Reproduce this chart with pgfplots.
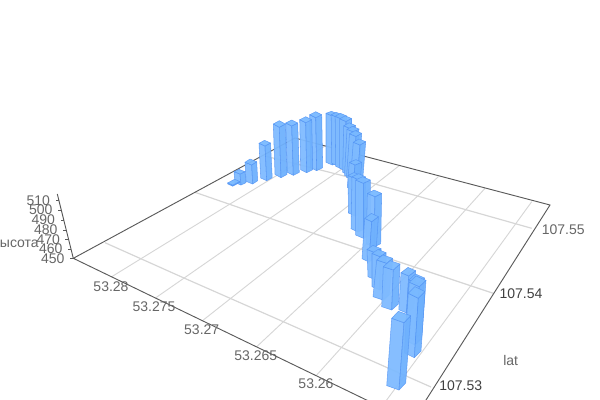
\documentclass[border=0pt]{standalone}
\usepackage{fontspec}
\setmainfont{Liberation Sans}
\usepackage{pgfplots}
\pgfplotsset{compat=1.18}
\definecolor{facel}{HTML}{7FBBFF}
\definecolor{facer}{HTML}{6FB1FD}
\definecolor{facet}{HTML}{79B9FF}
\definecolor{edgeb}{HTML}{5293F4}
\definecolor{gridc}{HTML}{D6D6D6}
\definecolor{axisc}{HTML}{5A5A5A}
\definecolor{labc}{HTML}{666666}
\definecolor{labd}{HTML}{404040}
\tikzset{lab/.style={font=\fontsize{10.5pt}{12pt}\selectfont,text=labc,inner sep=0pt},
         labdark/.style={font=\fontsize{10.5pt}{12pt}\selectfont,text=labd,inner sep=0pt,
           draw=none}}
% one 3D bar: top-front x y, bottom-front x y, left vector, right vector (pixels of the picture)
\newcommand{\vbar}[8]{%
  \pgfmathsetmacro{\tlx}{#1+#5}\pgfmathsetmacro{\tly}{#2+#6}%
  \pgfmathsetmacro{\trx}{#1+#7}\pgfmathsetmacro{\try}{#2+#8}%
  \pgfmathsetmacro{\tbx}{#1+#5+#7}\pgfmathsetmacro{\tby}{#2+#6+#8}%
  \pgfmathsetmacro{\blx}{#3+#5}\pgfmathsetmacro{\bly}{#4+#6}%
  \pgfmathsetmacro{\brx}{#3+#7}\pgfmathsetmacro{\bry}{#4+#8}%
  \addplot[barstyle,fill=facel] coordinates {(#1,#2) (\tlx,\tly) (\blx,\bly) (#3,#4)} --cycle;
  \addplot[barstyle,fill=facer] coordinates {(#1,#2) (\trx,\try) (\brx,\bry) (#3,#4)} --cycle;
  \addplot[barstyle,fill=facet] coordinates {(#1,#2) (\tlx,\tly) (\tbx,\tby) (\trx,\try)} --cycle;
}
\pgfplotsset{barstyle/.style={draw=edgeb,line width=0.4pt,fill opacity=0.95,draw opacity=0.8,line join=round,mark=none}}
\begin{document}
\begin{tikzpicture}
\useasboundingbox (0,0) rectangle (450pt,300pt);
\begin{axis}[at={(0,0)},anchor=south west,width=450pt,height=300pt,scale only axis,
  xmin=0,xmax=600,ymin=0,ymax=400,y dir=reverse,axis lines=none]
% grid, family along lat
\addplot[gridc,line width=0.9pt,mark=none] coordinates {(105,242.7) (183.3,277.7) (283.3,321.7) (431,387)};
\addplot[gridc,line width=0.9pt,mark=none] coordinates {(195,192.3) (313.3,233.3) (493.3,293.3)};
\addplot[gridc,line width=0.9pt,mark=none] coordinates {(263,155.5) (366.7,181.7) (531.7,228.3)};
% grid, family along lon
\addplot[gridc,line width=0.7pt,mark=none] coordinates {(111.7,276.7) (230,204) (325,146)};
\addplot[gridc,line width=0.7pt,mark=none] coordinates {(155,298.3) (270,218.3) (361.6,155.4)};
\addplot[gridc,line width=0.7pt,mark=none] coordinates {(203.3,320) (313.3,233.3) (399,165.8)};
\addplot[gridc,line width=0.7pt,mark=none] coordinates {(256.7,346.7) (438.3,176.7)};
\addplot[gridc,line width=0.7pt,mark=none] coordinates {(316.7,375) (485,188.3)};
\addplot[gridc,line width=0.7pt,mark=none] coordinates {(383,405) (470,286.7) (531.7,201.7)};
% floor frame
\addplot[axisc,line width=0.7pt,mark=none] coordinates {(73.3,258.3) (295,138) (550,205) (412,422) (73.3,258.3)};
% vertical axis and its ticks
\addplot[axisc,line width=0.7pt,mark=none] coordinates {(73.3,258.3) (57.3,194)};
\addplot[axisc,line width=0.7pt,mark=none] coordinates {(59.3,200.7) (55.8,200.7)};
\addplot[axisc,line width=0.7pt,mark=none] coordinates {(61.6,210) (58.1,210)};
\addplot[axisc,line width=0.7pt,mark=none] coordinates {(64.1,220) (60.6,220)};
\addplot[axisc,line width=0.7pt,mark=none] coordinates {(66.6,230) (63.1,230)};
\addplot[axisc,line width=0.7pt,mark=none] coordinates {(68.9,239.3) (65.4,239.3)};
\addplot[axisc,line width=0.7pt,mark=none] coordinates {(71.3,249) (67.8,249)};
\addplot[axisc,line width=0.7pt,mark=none] coordinates {(73.3,258.3) (69.8,258.3)};
% bars, far to near
\vbar{332.3}{116}{332.3}{165}{-6.3}{-2.7}{5.5}{-2}
\vbar{337.5}{117.5}{338}{166}{-6.3}{-2.7}{5}{-2.5}
\vbar{341.5}{119}{342}{169}{-6.3}{-2.7}{5.2}{-3}
\vbar{315.7}{117.7}{316.7}{170.7}{-6}{-3}{6}{-3}
\vbar{346}{121.5}{346}{171}{-6.3}{-2.7}{5.5}{-3}
\vbar{305.7}{122.7}{306.7}{172.7}{-6}{-3}{6}{-3}
\vbar{350}{128.5}{349}{175}{-6.3}{-2.7}{5.5}{-3}
\vbar{291.7}{126}{293.3}{175.3}{-6}{-3}{6}{-3}
\vbar{279.3}{127.3}{281}{177.7}{-6}{-3.3}{6}{-3.3}
\vbar{353.5}{132}{351}{178}{-6.5}{-2.7}{5.5}{-3}
\vbar{356}{136.5}{353}{180}{-6.5}{-2.7}{5.7}{-3.2}
\vbar{265}{146}{266.7}{180.7}{-6}{-2.7}{5.5}{-3}
\vbar{360}{145}{357}{183}{-6.7}{-2.7}{5.7}{-3.3}
\vbar{251.7}{165}{252.7}{184}{-6.7}{-2.7}{5}{-3.3}
\vbar{240}{174}{241}{185}{-6}{-2.3}{5}{-2.3}
\vbar{232.7}{185.2}{232.7}{186.2}{-5}{-2.3}{7}{-3.7}
\vbar{355}{165}{353}{190}{-5.7}{-2.7}{6.7}{-2.7}
\vbar{354.5}{178.5}{355}{216}{-6.5}{-3}{6}{-3}
\vbar{359}{180}{358}{232}{-7}{-3.3}{6.7}{-3}
\vbar{363.3}{183.3}{363.3}{238.3}{-7.7}{-3.3}{7}{-3.3}
\vbar{375}{196.7}{374}{247}{-7.7}{-3.3}{6.7}{-3.3}
\vbar{371.7}{221.7}{369}{262}{-7}{-3.3}{6.7}{-5}
\vbar{375}{252.7}{376}{280}{-8}{-3.3}{6}{-4}
\vbar{380}{256.7}{380}{290}{-8}{-3.3}{6}{-4}
\vbar{386.7}{263.3}{383}{300}{-10}{-3.3}{6}{-5}
\vbar{393.3}{270}{391.7}{310}{-10}{-3.3}{6.7}{-6}
\vbar{408.7}{276}{406.5}{313}{-7.7}{-3.3}{7}{-5.3}
\vbar{418}{284}{414}{340}{-9}{-4}{6.5}{-6}
\vbar{419.3}{286.7}{415}{345}{-10}{-4.5}{6.7}{-6.3}
\vbar{418.3}{298.3}{414.3}{357.7}{-10}{-5}{6.7}{-6.7}
\vbar{404}{322.7}{399}{390}{-12.3}{-4.4}{6.7}{-7}
% labels
\node[lab] at (axis cs:111,287) {53.28};
\node[lab] at (axis cs:154,307) {53.275};
\node[lab] at (axis cs:201.7,330) {53.27};
\node[lab] at (axis cs:255.7,356) {53.265};
\node[lab] at (axis cs:316,384) {53.26};
\node[lab] at (axis cs:563.3,229.3) {107.55};
\node[labdark] at (axis cs:521,293.3) {107.54};
\node[labdark] at (axis cs:460.7,386) {107.53};
\node[lab] at (axis cs:510.7,360) {lat};
\node[lab] at (axis cs:38.3,200.7) {510};
\node[lab] at (axis cs:40.7,210) {500};
\node[lab] at (axis cs:43.3,220) {490};
\node[lab] at (axis cs:45.7,230) {480};
\node[lab] at (axis cs:48.3,239.3) {470};
\node[lab] at (axis cs:50.7,249) {460};
\node[lab] at (axis cs:52.7,258.3) {450};
\node[lab,anchor=east] at (axis cs:39,244) {высота};
\end{axis}
\end{tikzpicture}
\end{document}
